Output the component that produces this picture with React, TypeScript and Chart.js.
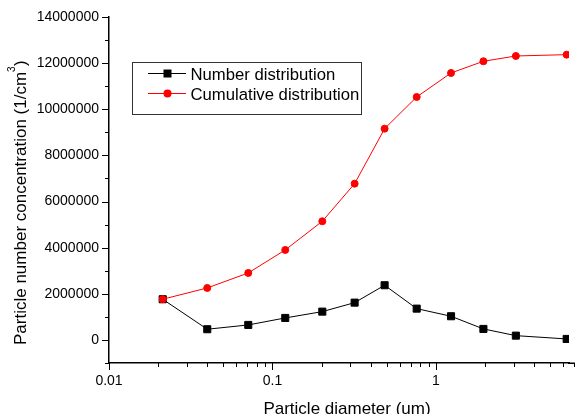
import React, { useEffect, useRef } from 'react';
import { Chart, registerables } from 'chart.js';

Chart.register(...registerables);

// ---- data ----
const diameters = [0.0213, 0.0399, 0.0711, 0.1197, 0.2017, 0.318, 0.485, 0.762, 1.236, 1.95, 3.08, 6.3];
const numberDist = [1764000, 464000, 650000, 954000, 1227000, 1617000, 2371000, 1357000, 1027000, 477000, 186000, 43000];
const cumulativeDist = [1764000, 2254000, 2904000, 3901000, 5145000, 6775000, 9159000, 10533000, 11573000, 12080000, 12310000, 12367000];
const xTickLabels = [0.01, 0.1, 1];
const yTickLabels = [0, 2000000, 4000000, 6000000, 8000000, 10000000, 12000000, 14000000];
const seriesNames = ['Number distribution', 'Cumulative distribution'];
const xTitle = 'Particle diameter (um)';
const yTitleMain = 'Particle number concentration (1/cm';
const yTitleSup = '3';
const yTitleEnd = ')';

const FONT = "'Liberation Sans', Arial, Helvetica, sans-serif";
const CANVAS_W = 575;

const decorPlugin = {
  id: 'decor',
  afterDraw(chart: any) {
    const ctx = chart.ctx as CanvasRenderingContext2D;
    const xs = chart.scales.x;
    const ys = chart.scales.y;
    const { left, right, bottom } = chart.chartArea;
    ctx.save();
    // extend x axis line to the canvas edge
    ctx.strokeStyle = '#000';
    ctx.lineWidth = 1.5;
    ctx.beginPath();
    ctx.moveTo(right - 1, Math.round(bottom) + 0.25);
    ctx.lineTo(CANVAS_W, Math.round(bottom) + 0.25);
    ctx.stroke();

    ctx.lineWidth = 1;
    const yStep = yTickLabels[1] - yTickLabels[0];
    for (let i = 0; i < yTickLabels.length; i++) {
      const vals = [yTickLabels[i], yTickLabels[i] + yStep / 2];
      vals.forEach((v, j) => {
        if (v > ys.max) return;
        const py = Math.round(ys.getPixelForValue(v)) + 0.5;
        const len = j === 0 ? 7 : 4;
        ctx.beginPath();
        ctx.moveTo(left, py);
        ctx.lineTo(left - len, py);
        ctx.stroke();
      });
    }
    const py0 = Math.round(ys.getPixelForValue(-yStep / 2)) + 0.5;
    ctx.beginPath();
    ctx.moveTo(left, py0);
    ctx.lineTo(left - 4, py0);
    ctx.stroke();
    xTickLabels.forEach((dec) => {
      for (let k = 1; k <= 9; k++) {
        const v = dec * k;
        const px = Math.round(xs.getPixelForValue(v)) + 0.5;
        if (px > CANVAS_W) break;
        const len = k === 1 ? 7 : 4;
        ctx.beginPath();
        ctx.moveTo(px, bottom);
        ctx.lineTo(px, bottom + len);
        ctx.stroke();
      }
    });

    // axis titles
    ctx.fillStyle = '#000';
    ctx.font = `17px ${FONT}`;
    ctx.textAlign = 'center';
    ctx.textBaseline = 'alphabetic';
    ctx.fillText(xTitle, (left + CANVAS_W) / 2 + 5, 413.5);

    ctx.save();
    ctx.translate(25.5, bottom - 18);
    ctx.rotate(-Math.PI / 2);
    ctx.textAlign = 'left';
    ctx.font = `17px ${FONT}`;
    ctx.fillText(yTitleMain, 0, 0);
    const w1 = ctx.measureText(yTitleMain).width;
    ctx.font = `10px ${FONT}`;
    ctx.fillText(yTitleSup, w1, -11);
    const w2 = ctx.measureText(yTitleSup).width;
    ctx.font = `17px ${FONT}`;
    ctx.fillText(yTitleEnd, w1 + w2 + 0.5, 0);
    ctx.restore();

    // legend
    ctx.strokeStyle = '#333';
    ctx.lineWidth = 1;
    ctx.strokeRect(132.5, 62.5, 229, 52);
    const rows = [
      { y: 73.5, color: '#000', style: 'rect' },
      { y: 93.5, color: '#ff0000', style: 'circle' },
    ];
    rows.forEach((r, i) => {
      ctx.strokeStyle = r.color;
      ctx.lineWidth = 1;
      ctx.beginPath();
      ctx.moveTo(148, r.y);
      ctx.lineTo(186, r.y);
      ctx.stroke();
      ctx.fillStyle = r.color;
      if (r.style === 'rect') {
        ctx.fillRect(163.5, r.y - 4, 8, 8);
      } else {
        ctx.beginPath();
        ctx.arc(167.5, r.y, 4, 0, Math.PI * 2);
        ctx.fill();
      }
      ctx.fillStyle = '#000';
      ctx.font = `16.7px ${FONT}`;
      ctx.textAlign = 'left';
      ctx.textBaseline = 'alphabetic';
      ctx.fillText(seriesNames[i], 190.5, r.y + 6);
    });
    ctx.restore();
  },
};

export default function App() {
  const canvasRef = useRef<HTMLCanvasElement | null>(null);

  useEffect(() => {
    document.body.style.margin = '0';
    const canvas = canvasRef.current;
    if (!canvas) return;
    const chart = new Chart(canvas, {
      type: 'line',
      data: {
        datasets: [
          {
            label: seriesNames[0],
            data: diameters.map((d, i) => ({ x: d, y: numberDist[i] })),
            borderColor: '#000',
            backgroundColor: '#000',
            borderWidth: 1,
            pointStyle: 'rect',
            pointRadius: 5,
            pointBorderWidth: 1,
            pointBackgroundColor: '#000',
            pointBorderColor: '#000',
            tension: 0,
            order: 1,
          },
          {
            label: seriesNames[1],
            data: diameters.map((d, i) => ({ x: d, y: cumulativeDist[i] })),
            borderColor: '#ff0000',
            backgroundColor: '#ff0000',
            borderWidth: 1,
            pointStyle: 'circle',
            pointRadius: 3.5,
            pointBorderWidth: 1,
            pointBackgroundColor: '#ff0000',
            pointBorderColor: '#ff0000',
            tension: 0,
            order: 0,
          },
        ],
      },
      options: {
        responsive: false,
        animation: false,
        devicePixelRatio: 1,
        layout: { padding: { top: 17, left: 0, right: 0, bottom: 0 } },
        plugins: {
          legend: { display: false },
          tooltip: { enabled: false },
        },
        scales: {
          x: {
            type: 'logarithmic',
            min: 0.01,
            max: 6.51,
            grid: { display: false, drawTicks: false },
            border: { display: true, color: '#000', width: 1.5 },
            ticks: {
              color: '#000',
              font: { family: FONT, size: 14 },
              padding: 10,
              autoSkip: false,
              maxRotation: 0,
              callback: (v: any) => String(v),
            },
            afterBuildTicks: (scale: any) => {
              scale.ticks = xTickLabels.map((v) => ({ value: v }));
            },
            afterFit: (scale: any) => {
              scale.height = 51;
              scale.paddingLeft = 0;
              scale.paddingRight = 0;
            },
          },
          y: {
            type: 'linear',
            min: -1000000,
            max: 14000000,
            grid: { display: false, drawTicks: false },
            border: { display: true, color: '#000', width: 1.5 },
            ticks: {
              color: '#000',
              font: { family: FONT, size: 14 },
              padding: 10,
              autoSkip: false,
              callback: (v: any) => String(v),
            },
            afterBuildTicks: (scale: any) => {
              scale.ticks = yTickLabels.map((v) => ({ value: v }));
            },
            afterFit: (scale: any) => {
              scale.width = 109;
              scale.paddingTop = 0;
              scale.paddingBottom = 0;
            },
          },
        },
      },
      plugins: [decorPlugin],
    });
    return () => chart.destroy();
  }, []);

  return (
    <div style={{ position: 'absolute', left: 0, top: 0, width: 575, height: 414 }}>
      <canvas ref={canvasRef} width={575} height={414} />
    </div>
  );
}
